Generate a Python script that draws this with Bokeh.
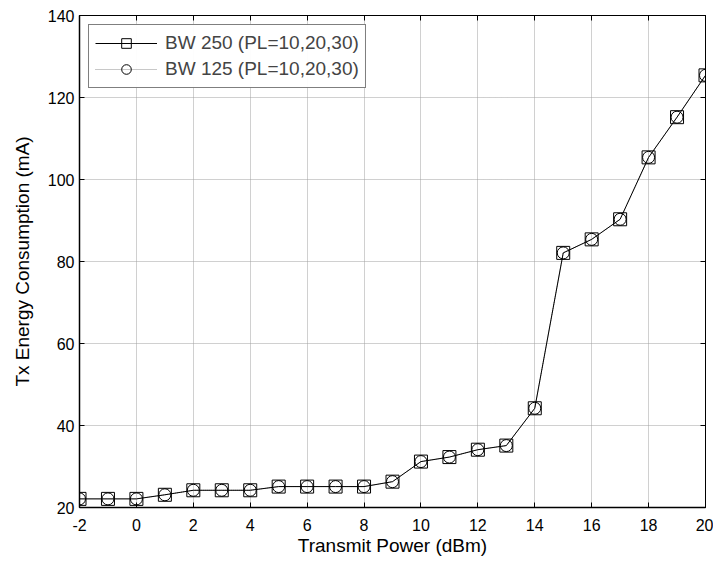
from bokeh.plotting import figure
from bokeh.models import LinearAxis, FixedTicker, Legend, LegendItem, Range1d
from bokeh.embed import file_html
from bokeh.resources import INLINE

tx_power = [-2, -1, 0, 1, 2, 3, 4, 5, 6, 7, 8, 9, 10, 11, 12, 13, 14, 15, 16, 17, 18, 19, 20]
bw250 = [22.1, 22.1, 22.1, 23.1, 24.2, 24.2, 24.2, 25.1, 25.1, 25.1, 25.1, 26.3, 31.2, 32.3, 34.1, 35.1, 44.2, 82.1, 85.4, 90.3, 105.4, 115.2, 125.4]
bw125 = [22.1, 22.1, 22.1, 23.1, 24.2, 24.2, 24.2, 25.1, 25.1, 25.1, 25.1, 26.3, 31.2, 32.3, 34.1, 35.1, 44.2, 82.1, 85.4, 90.3, 105.4, 115.2, 125.4]
x_ticks = list(range(-2, 21, 2))
y_ticks = list(range(20, 141, 20))
x_tick_labels = {t: str(t) for t in x_ticks}
label_250 = "BW 250 (PL=10,20,30)"
label_125 = "BW 125 (PL=10,20,30)"

FONT = "Liberation Sans"

p = figure(width=713, height=561, output_backend="svg", toolbar_location=None,
           x_range=Range1d(-2, 20), y_range=Range1d(20, 140),
           min_border_left=79, min_border_right=8, min_border_top=15, min_border_bottom=54)
p.outline_line_color = "black"
p.outline_line_width = 1

for ax in (p.xaxis[0], p.yaxis[0]):
    ax.major_label_text_font = FONT
    ax.major_label_text_font_size = "16px"
    ax.major_label_text_color = "black"
    ax.axis_label_text_font = FONT
    ax.axis_label_text_font_size = "19px"
    ax.axis_label_text_font_style = "normal"
    ax.axis_label_text_color = "black"
    ax.major_tick_in = 5
    ax.major_tick_out = 0
    ax.minor_tick_in = 0
    ax.minor_tick_out = 0
    ax.axis_line_color = "black"
    ax.axis_line_width = 1.5
    ax.major_label_standoff = 5

p.xaxis[0].ticker = FixedTicker(ticks=x_ticks)
p.xaxis[0].major_label_overrides = x_tick_labels
p.xaxis[0].major_label_standoff = 11
p.yaxis[0].ticker = FixedTicker(ticks=y_ticks)
p.xaxis[0].axis_label = "Transmit Power (dBm)"
p.yaxis[0].axis_label = "Tx Energy Consumption (mA)"
p.xaxis[0].axis_label_standoff = 1
p.yaxis[0].axis_label_standoff = 12

for loc, tick in (("right", y_ticks), ("above", x_ticks)):
    ax = LinearAxis(ticker=FixedTicker(ticks=tick))
    ax.major_label_text_color = None
    ax.major_label_text_font_size = "1px"
    ax.major_label_standoff = 0
    ax.major_tick_in = 5
    ax.major_tick_out = 0
    ax.minor_tick_in = 0
    ax.minor_tick_out = 0
    ax.axis_line_color = "black"
    ax.axis_line_width = 1
    p.add_layout(ax, loc)

p.xgrid.ticker = FixedTicker(ticks=x_ticks)
p.ygrid.ticker = FixedTicker(ticks=y_ticks)
p.xgrid.grid_line_color = "#a0a0a0"
p.ygrid.grid_line_color = "#a0a0a0"
p.xgrid.grid_line_dash = "1 1"
p.ygrid.grid_line_dash = "1 1"

l125 = p.line(tx_power, bw125, line_color="#909090", line_width=1, line_dash="1 1")
c125 = p.scatter(tx_power, bw125, marker="circle", size=12, fill_color=None, line_color="black", line_width=1)
l250 = p.line(tx_power, bw250, line_color="black", line_width=1)
s250 = p.scatter(tx_power, bw250, marker="square", size=13, fill_color=None, line_color="black", line_width=1)

legend = Legend(items=[LegendItem(label=label_250, renderers=[l250, s250]),
                       LegendItem(label=label_125, renderers=[l125, c125])],
                location="top_left")
legend.label_text_font = FONT
legend.label_text_font_size = "19px"
legend.border_line_color = "black"
legend.border_line_width = 1.5
legend.glyph_width = 62
legend.glyph_height = 24
legend.label_height = 24
legend.spacing = 2
legend.padding = 6
legend.margin = 9
legend.label_standoff = 8
p.add_layout(legend)

open("out.html", "w").write(file_html(p, INLINE))
